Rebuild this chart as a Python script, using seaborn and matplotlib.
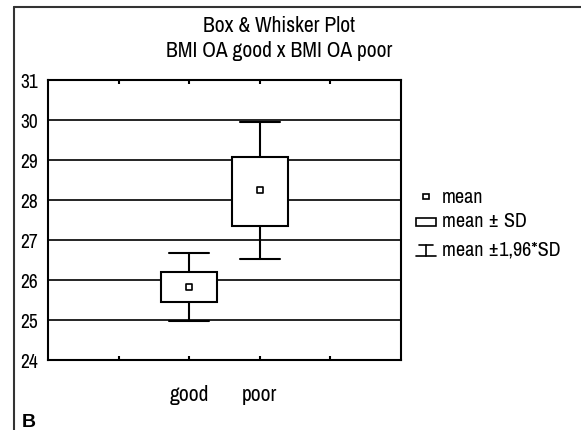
import numpy as np
import matplotlib
matplotlib.use("Agg")
import matplotlib.pyplot as plt
from matplotlib import font_manager
from matplotlib.lines import Line2D
from matplotlib.patches import Rectangle
import seaborn as sns

# values
groups = ["good", "poor"]
means = [25.83, 28.25]
sd_low = [25.46, 27.36]
sd_high = [26.20, 29.08]
ci_low = [24.98, 26.52]
ci_high = [26.67, 29.94]

sns.set_style("white")
names = sorted({f.name for f in font_manager.fontManager.ttflist})
narrow = [n for n in names if "Narrow" in n or "Condensed" in n]
family = narrow[0] if narrow else "Liberation Sans"
plt.rcParams['font.family'] = [family, 'DejaVu Sans']
plt.rcParams['text.color'] = 'black'
plt.rcParams['xtick.color'] = 'black'
plt.rcParams['ytick.color'] = 'black'

W, H = 581, 431
fig = plt.figure(figsize=(W / 100, H / 100), dpi=100)
ax = fig.add_axes([48 / W, 1 - 361 / H, (401 - 48) / W, (361 - 81) / H])

pos = [2, 3]
stats = []
for g, m, lo, hi, wl, wh in zip(groups, means, sd_low, sd_high, ci_low, ci_high):
    stats.append(dict(label=g, med=m, q1=lo, q3=hi, whislo=wl, whishi=wh, fliers=[]))

ax.bxp(stats, positions=pos, widths=0.79, showfliers=False, patch_artist=True,
       boxprops=dict(facecolor="white", edgecolor="black", linewidth=1.5),
       whiskerprops=dict(color="black", linewidth=1.5),
       capprops=dict(color="black", linewidth=1.5),
       medianprops=dict(linewidth=0),
       capwidths=0.56, zorder=3)

sns.scatterplot(x=pos, y=means, marker="s", s=22, color="white",
                edgecolor="black", linewidth=1.2, ax=ax, zorder=4)

ax.set_xlim(0, 5)
ax.set_ylim(24, 31)
ax.set_yticks(np.arange(24, 32))
ax.set_yticklabels([str(v) for v in range(24, 32)], fontsize=14)
ax.set_xticks([1, 2, 3, 4])
ax.set_xticklabels(["", "good", "poor", ""], fontsize=15.5)
ax.tick_params(axis="x", direction="in", length=3, width=1.5, pad=17, top=True, bottom=True)
ax.tick_params(axis="y", length=0, pad=7)
for v in range(25, 31):
    ax.axhline(v, color="black", linewidth=1.2, zorder=1)
for sp in ax.spines.values():
    sp.set_linewidth(1.5)
    sp.set_color("black")

# title, centred where the reference has it
fig.text(279 / W, 1 - 32 / H, "Box & Whisker Plot", fontsize=15.5, ha="center", va="baseline")
fig.text(279 / W, 1 - 57 / H, "BMI OA good x BMI OA poor", fontsize=15.5, ha="center", va="baseline")

# outer frame
fig.add_artist(Line2D([14 / W, 14 / W], [0, 1 - 8 / H], color="#333333", linewidth=1.5))
fig.add_artist(Line2D([14 / W, 1], [1 - 8 / H, 1 - 8 / H], color="#333333", linewidth=1.5))
fig.text(22 / W, 1 - 427 / H, "B", fontsize=14, fontweight="bold", va="baseline", ha="left",
         family=["Liberation Sans", "DejaVu Sans"])

# legend drawn by hand
fig.add_artist(Rectangle((423 / W, 1 - 200 / H), 6 / W, 5 / H, facecolor="white",
                         edgecolor="black", linewidth=1.2))
fig.text(442 / W, 1 - 198 / H, "mean", fontsize=14.5, va="center")
fig.add_artist(Rectangle((416 / W, 1 - 227 / H), 20 / W, 8 / H, facecolor="white",
                         edgecolor="black", linewidth=1.2))
fig.text(442 / W, 1 - 222 / H, "mean ± SD", fontsize=14.5, va="center")
fig.add_artist(Line2D([419 / W, 433 / W], [1 - 246 / H, 1 - 246 / H], color="black", linewidth=1.2))
fig.add_artist(Line2D([426 / W, 426 / W], [1 - 246 / H, 1 - 257 / H], color="black", linewidth=1.2))
fig.add_artist(Line2D([416 / W, 436 / W], [1 - 257 / H, 1 - 257 / H], color="black", linewidth=1.2))
fig.text(442 / W, 1 - 250 / H, "mean ±1,96*SD", fontsize=14.5, va="center")

fig.savefig("out.png", dpi=100)
